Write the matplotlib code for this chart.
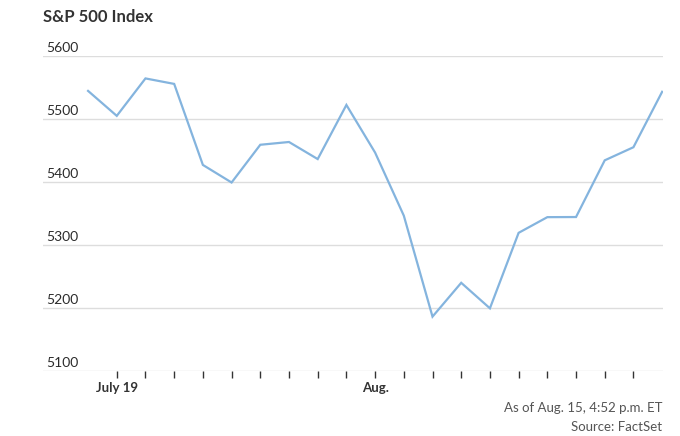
import matplotlib
matplotlib.use("Agg")
from matplotlib import pyplot as plt
from matplotlib.transforms import offset_copy

plt.rcParams['font.family'] = ['Lato', 'DejaVu Sans']

# daily closes, July 18 - Aug. 15
dates = ["Jul 18", "Jul 19", "Jul 22", "Jul 23", "Jul 24", "Jul 25", "Jul 26",
         "Jul 29", "Jul 30", "Jul 31", "Aug 1", "Aug 2", "Aug 5", "Aug 6",
         "Aug 7", "Aug 8", "Aug 9", "Aug 12", "Aug 13", "Aug 14", "Aug 15"]
closes = [5544.6, 5505.0, 5564.4, 5555.7, 5427.1, 5399.2, 5459.1,
          5463.5, 5436.4, 5522.3, 5446.7, 5346.6, 5186.3, 5240.0,
          5199.5, 5319.3, 5344.2, 5344.4, 5434.4, 5455.2, 5543.2]
yticks = [5100, 5200, 5300, 5400, 5500, 5600]
xlabels = {1: "July 19", 10: "Aug."}

fig = plt.figure(figsize=(6.8, 4.36), dpi=100)
ax = fig.add_axes([43 / 680, 65 / 436, 620 / 680, 315 / 436])

x = list(range(len(closes)))
ax.plot(x, closes, color="#84b4de", lw=1.6, solid_joinstyle="miter")

ax.set_xlim(-1.57, 20.03)
ax.set_ylim(5100, 5600)

for s in ax.spines.values():
    s.set_visible(False)

ax.set_yticks(yticks)
ax.yaxis.grid(True, color="#dddddd", lw=1)
ax.tick_params(axis="y", length=0, labelleft=False)
ax.set_axisbelow(True)

tr = offset_copy(ax.get_yaxis_transform(), fig=fig, x=3, y=4, units="dots")
for v in yticks:
    ax.text(0, v, str(v), transform=tr, ha="left", va="baseline",
            fontsize=10, color="#2b2b2b")

tick_pos = x[1:20]
ax.set_xticks(tick_pos)
ax.set_xticklabels([xlabels.get(i, "") for i in tick_pos], fontsize=9.5,
                   fontweight="bold", color="#333333")
ax.tick_params(axis="x", length=5, width=1, color="#333333", pad=3)

fig.text(43 / 680, 1 - 17 / 436, "S&P 500 Index", fontsize=12, fontweight="bold",
         color="#333333", va="center", ha="left")
fig.text(662 / 680, 1 - 408 / 436, "As of Aug. 15, 4:52 p.m. ET", fontsize=9.5,
         color="#555555", va="center", ha="right")
fig.text(662 / 680, 1 - 427 / 436, "Source: FactSet", fontsize=9.5,
         color="#555555", va="center", ha="right")

fig.savefig("out.png", dpi=100)
